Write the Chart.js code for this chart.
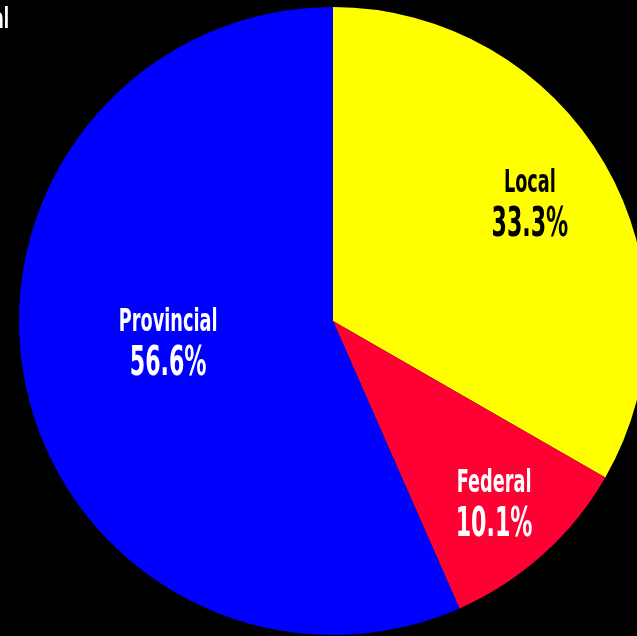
<!DOCTYPE html>
<html>
<head>
<meta charset="utf-8">
<script src="https://cdn.jsdelivr.net/npm/chart.js@4/dist/chart.umd.min.js"></script>
<style>
  html, body { margin: 0; padding: 0; background: #000; overflow: hidden; width: 637px; height: 636px; }
  #wrap { position: absolute; left: 0; top: 0; width: 660px; height: 660px; }
</style>
</head>
<body>
<div id="wrap"><canvas id="myChart" width="660" height="660"></canvas></div>
<script>
var LEVELS = ["Local", "Federal", "Provincial"]
var SHARES = [33.3, 10.1, 56.6]
var COLORS = ["#ffff00", "#ff0033", "#0000ff"]
var TEXT_COLORS = ["#000000", "#ffffff", "#ffffff"]
var TITLE = "al"

// where each label block sits, as a fraction of the radius from the centre
var LABEL_SPOTS = [[0.627, -0.373], [0.513, 0.583], [-0.525, 0.07]]

const FONT = "'DejaVu Sans Condensed', 'DejaVu Sans', sans-serif"
const SQUEEZE = 0.615

// condensed text: squeeze horizontally around the x anchor
function squeezedText(ctx, text, x, y, sx) {
  ctx.save()
  ctx.translate(x, y)
  ctx.scale(sx, 1)
  ctx.fillText(text, 0, 0)
  ctx.restore()
}

const sliceLabels = {
  id: 'sliceLabels',
  afterDatasetsDraw(chart) {
    const ctx = chart.ctx
    const meta = chart.getDatasetMeta(0)
    meta.data.forEach(function(arc, i) {
      const p = arc.getProps(['x', 'y', 'outerRadius'], true)
      const cx = p.x + LABEL_SPOTS[i][0] * p.outerRadius
      const cy = p.y + LABEL_SPOTS[i][1] * p.outerRadius
      ctx.save()
      ctx.fillStyle = TEXT_COLORS[i]
      ctx.textAlign = 'center'
      ctx.textBaseline = 'alphabetic'
      ctx.font = "bold 32px " + FONT
      squeezedText(ctx, LEVELS[i], cx, cy - 12, SQUEEZE)
      ctx.font = "bold 40px " + FONT
      squeezedText(ctx, SHARES[i].toFixed(1) + "%", cx, cy + 32, SQUEEZE)
      ctx.restore()
    })
    // leftover end of the heading at the top-left corner
    ctx.save()
    ctx.fillStyle = "#ffffff"
    ctx.textAlign = 'right'
    ctx.font = "bold 28px " + FONT
    squeezedText(ctx, TITLE, 9, 28, SQUEEZE)
    ctx.restore()
  }
}

const data = {
  labels: LEVELS,
  datasets: [{
    data: SHARES,
    backgroundColor: COLORS,
    borderWidth: 0,
    offset: 0,
    hoverOffset: 0
  }]
}

const config = {
  type: 'pie',
  data: data,
  options: {
    responsive: false,
    animation: false,
    events: [],
    layout: { padding: { left: 19, top: 7, right: 13, bottom: 25 } },
    plugins: {
      legend: { display: false },
      tooltip: { enabled: false },
      title: { display: false }
    }
  },
  plugins: [sliceLabels]
}

const myChart = new Chart(document.getElementById('myChart'), config)
</script>
</body>
</html>
